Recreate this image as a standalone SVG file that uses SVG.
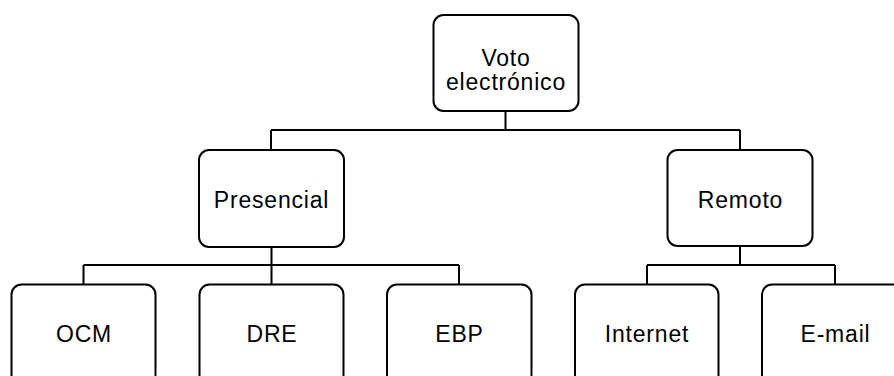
<svg xmlns="http://www.w3.org/2000/svg" width="894" height="376" viewBox="0 0 894 376">
<style>
.box{fill:#fff;stroke:#000;stroke-width:2}
.lbl{font-family:"Liberation Sans",Arial,sans-serif;font-size:23px;letter-spacing:0.8px;text-anchor:middle;fill:#000}
.conn{fill:none;stroke:#000;stroke-width:2}
</style>
<rect width="894" height="376" fill="#fff"/>
<g id="connectors">
<path class="conn" d="M505.5 111V130M271 130H740M271 130V150M740 130V150"/>
<path class="conn" d="M271.5 247V265M83.5 265H459M83.5 265V284M271.5 265V284M459 265V284"/>
<path class="conn" d="M740 246V265M647 265H835M647 265V284M835 265V284"/>
</g>
<g id="root">
<rect class="box" x="433.5" y="15" width="145" height="96" rx="10"/>
<text class="lbl" x="506" y="66">Voto</text>
<text class="lbl" x="506" y="90">electrónico</text>
</g>
<g id="presencial">
<rect class="box" x="199" y="150" width="145" height="97" rx="10"/>
<text class="lbl" x="271.5" y="207.5">Presencial</text>
</g>
<g id="remoto">
<rect class="box" x="667.5" y="150" width="145" height="96" rx="10"/>
<text class="lbl" x="740.5" y="207.5">Remoto</text>
</g>
<g id="ocm">
<rect class="box" x="11.5" y="284.5" width="144" height="100" rx="10"/>
<text class="lbl" x="84" y="341.5">OCM</text>
</g>
<g id="dre">
<rect class="box" x="199.5" y="284.5" width="144" height="100" rx="10"/>
<text class="lbl" x="272" y="341.5">DRE</text>
</g>
<g id="ebp">
<rect class="box" x="387" y="284.5" width="144.5" height="100" rx="10"/>
<text class="lbl" x="459.5" y="341.5">EBP</text>
</g>
<g id="internet">
<rect class="box" x="575" y="284.5" width="143.5" height="100" rx="10"/>
<text class="lbl" x="647" y="341.5">Internet</text>
</g>
<g id="email">
<rect class="box" x="762" y="284.5" width="145" height="100" rx="10"/>
<text class="lbl" x="835.5" y="341.5">E-mail</text>
</g>
</svg>
